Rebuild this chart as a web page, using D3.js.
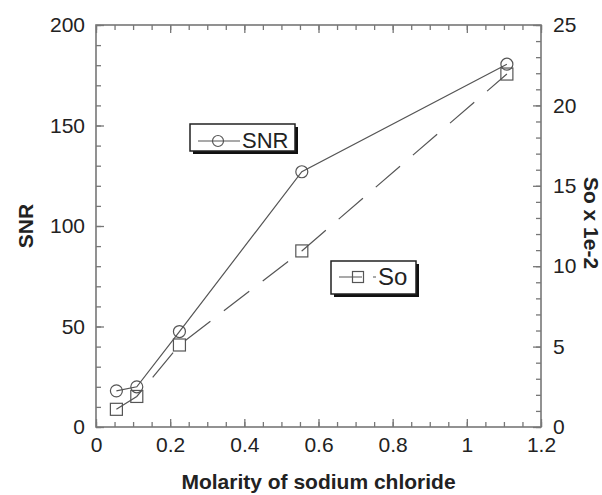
<!DOCTYPE html>
<html>
<head>
<meta charset="utf-8">
<script src="https://cdn.jsdelivr.net/npm/d3@7"></script>
<style>
  html, body { margin: 0; padding: 0; background: #fff; overflow: hidden; }
  svg { display: block; }
  text { font-family: "Liberation Sans", Arial, Helvetica, sans-serif; fill: #222; }
</style>
</head>
<body>
<div id="chart"></div>
<script>
// data
const molarity = [0.055, 0.11, 0.225, 0.555, 1.108];
const snrValues = [18, 20, 47.5, 127, 180.5];
const soValues = [1.1, 1.9, 5.1, 10.95, 21.95];

const xTicks = [0, 0.2, 0.4, 0.6, 0.8, 1, 1.2];
const snrTicks = [0, 50, 100, 150, 200];
const soTicks = [0, 5, 10, 15, 20, 25];

const width = 602, height = 495;
const margin = { top: 25, right: 61, bottom: 68, left: 96 };
const innerWidth = width - margin.left - margin.right;
const innerHeight = height - margin.top - margin.bottom;

const lineColor = "#555";
const axisColor = "#777";

const svg = d3.select("#chart").append("svg")
    .attr("width", width)
    .attr("height", height);

const g = svg.append("g")
    .attr("transform", `translate(${margin.left},${margin.top})`);

// scales
const x = d3.scaleLinear().domain([0, 1.2]).range([0, innerWidth]);
const ySnr = d3.scaleLinear().domain([0, 200]).range([innerHeight, 0]);
const ySo = d3.scaleLinear().domain([0, 25]).range([innerHeight, 0]);

const xMinor = d3.range(0, 1.2001, 0.05);
const snrMinor = d3.range(0, 200.01, 10);
const soMinor = d3.range(0, 25.01, 1);

function styleAxis(sel) {
    sel.attr("font-size", null).attr("font-family", null);
    sel.select(".domain").remove();
    sel.selectAll(".tick line").attr("stroke", axisColor).attr("stroke-width", 1.3);
    sel.selectAll(".tick text").attr("font-size", 21).attr("fill", "#222");
}

function minorOnly(sel) {
    styleAxis(sel);
    sel.selectAll(".tick text").remove();
}

// minor ticks (no labels)
g.append("g").attr("transform", `translate(0,${innerHeight})`)
    .call(d3.axisBottom(x).tickValues(xMinor).tickSize(-5))
    .call(minorOnly);
g.append("g")
    .call(d3.axisTop(x).tickValues(xMinor).tickSize(-5))
    .call(minorOnly);
g.append("g")
    .call(d3.axisLeft(ySnr).tickValues(snrMinor).tickSize(-5))
    .call(minorOnly);
g.append("g").attr("transform", `translate(${innerWidth},0)`)
    .call(d3.axisRight(ySo).tickValues(soMinor).tickSize(-5))
    .call(minorOnly);

// major ticks
g.append("g").attr("transform", `translate(0,${innerHeight})`)
    .call(d3.axisBottom(x).tickValues(xTicks).tickSize(-8).tickPadding(10).tickFormat(d3.format("~g")))
    .call(styleAxis);
g.append("g")
    .call(d3.axisTop(x).tickValues(xTicks).tickSize(-8))
    .call(minorOnly);
g.append("g")
    .call(d3.axisLeft(ySnr).tickValues(snrTicks).tickSize(-8).tickPadding(11))
    .call(styleAxis);
g.append("g").attr("transform", `translate(${innerWidth},0)`)
    .call(d3.axisRight(ySo).tickValues(soTicks).tickSize(-8).tickPadding(12))
    .call(styleAxis);

// frame
g.append("rect")
    .attr("width", innerWidth)
    .attr("height", innerHeight)
    .attr("fill", "none")
    .attr("stroke", axisColor)
    .attr("stroke-width", 1.6);

// lines
const snrData = molarity.map((m, i) => ({ x: m, y: snrValues[i] }));
const soData = molarity.map((m, i) => ({ x: m, y: soValues[i] }));

g.append("path")
    .datum(snrData)
    .attr("fill", "none")
    .attr("stroke", lineColor)
    .attr("stroke-width", 1.2)
    .attr("d", d3.line().x(d => x(d.x)).y(d => ySnr(d.y)));

g.append("path")
    .datum(soData)
    .attr("fill", "none")
    .attr("stroke", lineColor)
    .attr("stroke-width", 1.2)
    .attr("stroke-dasharray", "32,17")
    .attr("d", d3.line().x(d => x(d.x)).y(d => ySo(d.y)));

// markers
g.selectAll(".snr-dot")
    .data(snrData)
    .enter().append("circle")
    .attr("class", "snr-dot")
    .attr("cx", d => x(d.x))
    .attr("cy", d => ySnr(d.y))
    .attr("r", 6)
    .attr("fill", "none")
    .attr("stroke", lineColor)
    .attr("stroke-width", 1.2);

const sq = 12;
g.selectAll(".so-dot")
    .data(soData)
    .enter().append("rect")
    .attr("class", "so-dot")
    .attr("x", d => x(d.x) - sq / 2)
    .attr("y", d => ySo(d.y) - sq / 2)
    .attr("width", sq)
    .attr("height", sq)
    .attr("fill", "none")
    .attr("stroke", lineColor)
    .attr("stroke-width", 1.2);

// axis titles
svg.append("text")
    .attr("x", margin.left + innerWidth / 2)
    .attr("y", 489)
    .attr("text-anchor", "middle")
    .attr("font-size", 21)
    .attr("font-weight", "bold")
    .text("Molarity of sodium chloride");

svg.append("text")
    .attr("transform", `translate(33,${margin.top + innerHeight / 2}) rotate(-90)`)
    .attr("text-anchor", "middle")
    .attr("font-size", 21)
    .attr("font-weight", "bold")
    .text("SNR");

svg.append("text")
    .attr("transform", `translate(584,223) rotate(90)`)
    .attr("text-anchor", "middle")
    .attr("font-size", 21)
    .attr("font-weight", "bold")
    .text("So x 1e-2");

// legends (boxes with drop shadow)
function legendBox(bx, by, bw, bh) {
    svg.append("rect")
        .attr("x", bx + 3).attr("y", by + 3)
        .attr("width", bw).attr("height", bh)
        .attr("fill", "#111");
    svg.append("rect")
        .attr("x", bx).attr("y", by)
        .attr("width", bw).attr("height", bh)
        .attr("fill", "#fff")
        .attr("stroke", "#222")
        .attr("stroke-width", 1.5);
}

legendBox(190, 124, 105, 27);
svg.append("line")
    .attr("x1", 198).attr("x2", 240).attr("y1", 141).attr("y2", 141)
    .attr("stroke", lineColor).attr("stroke-width", 1.2);
svg.append("circle")
    .attr("cx", 218).attr("cy", 141).attr("r", 5.5)
    .attr("fill", "none").attr("stroke", lineColor).attr("stroke-width", 1.2);
svg.append("text")
    .attr("x", 242).attr("y", 148)
    .attr("font-size", 22)
    .attr("fill", "#333")
    .text("SNR");

legendBox(331, 261, 85, 33);
svg.append("line")
    .attr("x1", 339).attr("x2", 376).attr("y1", 277).attr("y2", 277)
    .attr("stroke", lineColor).attr("stroke-width", 1.2)
    .attr("stroke-dasharray", "23,11");
svg.append("rect")
    .attr("x", 358 - 5.5).attr("y", 277 - 5.5)
    .attr("width", 11).attr("height", 11)
    .attr("fill", "none").attr("stroke", lineColor).attr("stroke-width", 1.2);
svg.append("text")
    .attr("x", 378).attr("y", 285)
    .attr("font-size", 24)
    .attr("fill", "#333")
    .text("So");
</script>
</body>
</html>
